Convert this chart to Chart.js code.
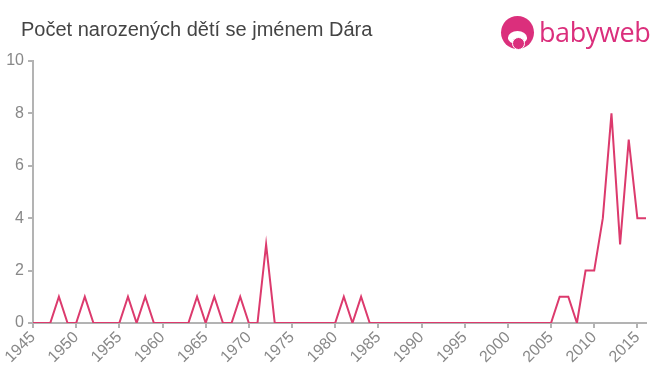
<!DOCTYPE html>
<html><head><meta charset="utf-8">
<script src="https://cdn.jsdelivr.net/npm/chart.js@4/dist/chart.umd.min.js"></script>
<style>
html,body{margin:0;padding:0;background:#fff;}
#wrap{position:relative;width:660px;height:375px;}
#title{position:absolute;left:21px;top:18px;font:20px "Liberation Sans",Arial,sans-serif;color:#444;}
#logo{position:absolute;left:500px;top:14px;height:36px;}
#logo .c{position:absolute;left:1px;top:2px;width:33px;height:33px;border-radius:50%;background:#db2f7c;}
#logo .f{position:absolute;left:8px;top:17px;width:19px;height:13px;border-radius:50% 50% 45% 45%;background:#fff;}
#logo .m{position:absolute;left:12px;top:23px;width:11px;height:11px;border-radius:50%;background:#db2f7c;border:1.5px solid #fff;}
#logo .t{position:absolute;left:39px;top:-1px;font:500 27px "Open Sans","Liberation Sans",sans-serif;color:#db2f7c;letter-spacing:-0.4px;}
canvas{position:absolute;left:0;top:0;}
</style></head>
<body><div id="wrap">
<canvas id="c" width="660" height="375"></canvas>
<div id="title">Počet narozených dětí se jménem Dára</div>
<div id="logo"><div class="c"></div><div class="f"></div><div class="m"></div><div class="t">babyweb</div></div>
</div>
<script>
const years = [1945,1946,1947,1948,1949,1950,1951,1952,1953,1954,1955,1956,1957,1958,1959,1960,1961,1962,1963,1964,1965,1966,1967,1968,1969,1970,1971,1972,1973,1974,1975,1976,1977,1978,1979,1980,1981,1982,1983,1984,1985,1986,1987,1988,1989,1990,1991,1992,1993,1994,1995,1996,1997,1998,1999,2000,2001,2002,2003,2004,2005,2006,2007,2008,2009,2010,2011,2012,2013,2014,2015,2016];
const counts = [0,0,0,1,0,0,1,0,0,0,0,1,0,1,0,0,0,0,0,1,0,1,0,0,1,0,0,3,0,0,0,0,0,0,0,0,1,0,1,0,0,0,0,0,0,0,0,0,0,0,0,0,0,0,0,0,0,0,0,0,0,1,1,0,2,2,4,8,3,7,4,4];
const xTicks = [1945,1950,1955,1960,1965,1970,1975,1980,1985,1990,1995,2000,2005,2010,2015];
const yTicks = [0,2,4,6,8,10];

const axisColor = '#b3b3b3';
const tickFont = {family:'"Liberation Sans", Arial, sans-serif', size:16};
new Chart(document.getElementById('c'), {
  type:'line',
  data:{datasets:[{
    data: years.map((y,i)=>({x:y,y:counts[i]})),
    borderColor:'#dc3a6d', borderWidth:2, pointRadius:0, tension:0, fill:false
  }]},
  options:{
    responsive:false, animation:false,
    layout:{padding:{left:0,top:61,right:14,bottom:0}},
    plugins:{legend:{display:false},tooltip:{enabled:false}},
    scales:{
      x:{type:'linear',min:1945,max:2016,
        afterFit:s=>{s.height=52;},
        afterBuildTicks:s=>{s.ticks=xTicks.map(v=>({value:v}));},
        grid:{display:true,drawOnChartArea:false,drawTicks:true,tickLength:5,color:axisColor,lineWidth:2},
        border:{display:true,color:axisColor,width:2},
        ticks:{color:'#888',font:tickFont,maxRotation:45,minRotation:45,padding:0,autoSkip:false,callback:v=>String(v)}
      },
      y:{min:0,max:10,
        afterFit:s=>{s.width=33;},
        afterBuildTicks:s=>{s.ticks=yTicks.map(v=>({value:v}));},
        grid:{display:true,drawOnChartArea:false,drawTicks:true,tickLength:5,color:axisColor,lineWidth:2},
        border:{display:true,color:axisColor,width:2},
        ticks:{color:'#888',font:tickFont,padding:4}
      }
    }
  }
});
</script>
</body></html>
